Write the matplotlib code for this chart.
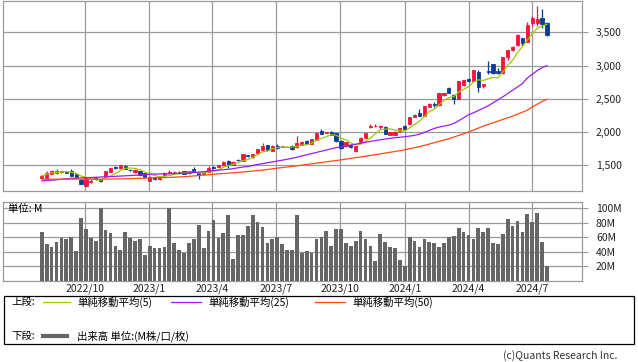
import numpy as np
import pandas as pd
import matplotlib
matplotlib.use('Agg')
import matplotlib.pyplot as plt
import matplotlib.dates as mdates
from matplotlib.lines import Line2D

plt.rcParams['font.family'] = ['Noto Sans CJK JP', 'DejaVu Sans']

# weekly bars, Monday dates
dates = pd.date_range('2022-08-01', periods=104, freq='W-MON')

opens = [1313, 1313, 1374, 1380, 1398, 1400, 1419, 1370, 1285, 1193,
         1255, 1310, 1290, 1330, 1400, 1470, 1455, 1495, 1430, 1395,
         1410, 1380, 1265, 1320, 1290, 1350, 1385, 1400, 1405, 1410,
         1380, 1450, 1390, 1370, 1400, 1480, 1480, 1505, 1570, 1505,
         1585, 1570, 1650, 1620, 1680, 1731, 1800, 1721, 1796, 1775,
         1775, 1796, 1771, 1806, 1871, 1821, 1881, 2021, 1985, 2006,
         1981, 1871, 1790, 1810, 1716, 1846, 1916, 2080, 2085, 2075,
         2081, 1956, 1961, 2011, 2097, 2122, 2232, 2292, 2242, 2382,
         2420, 2402, 2558, 2658, 2563, 2503, 2708, 2803, 2773, 2909,
         2693, 2915, 3024, 2924, 2884, 3134, 3234, 3310, 3410, 3360,
         3636, 3646, 3711, 3646]
highs = [1350, 1410, 1430, 1440, 1420, 1410, 1440, 1375, 1290, 1325,
         1295, 1320, 1300, 1415, 1465, 1485, 1510, 1500, 1440, 1440,
         1420, 1385, 1335, 1330, 1335, 1395, 1430, 1410, 1410, 1420,
         1415, 1470, 1395, 1395, 1490, 1490, 1510, 1565, 1575, 1560,
         1600, 1675, 1660, 1675, 1750, 1830, 1805, 1800, 1815, 1790,
         1790, 1805, 1946, 1860, 1880, 1895, 1985, 2046, 2000, 2010,
         1985, 1880, 1850, 1820, 1795, 1920, 1985, 2120, 2120, 2110,
         2085, 2005, 2010, 2060, 2100, 2225, 2270, 2352, 2395, 2440,
         2457, 2585, 2585, 2680, 2570, 2775, 2790, 2810, 2940, 2930,
         2730, 3069, 3030, 2960, 3130, 3240, 3300, 3470, 3420, 3660,
         3740, 3896, 3846, 3660]
lows = [1305, 1305, 1365, 1370, 1385, 1380, 1340, 1310, 1220, 1185,
        1240, 1285, 1245, 1330, 1395, 1440, 1450, 1440, 1410, 1385,
        1350, 1320, 1260, 1280, 1275, 1345, 1370, 1395, 1375, 1370,
        1375, 1395, 1300, 1365, 1395, 1450, 1475, 1495, 1455, 1500,
        1560, 1565, 1625, 1615, 1675, 1725, 1720, 1715, 1750, 1770,
        1770, 1735, 1765, 1800, 1815, 1815, 1875, 1970, 1980, 1950,
        1855, 1740, 1770, 1755, 1705, 1840, 1910, 2060, 2070, 2040,
        1965, 1950, 1955, 2005, 2035, 2115, 2225, 2235, 2235, 2375,
        2380, 2395, 2540, 2585, 2417, 2495, 2700, 2760, 2765, 2600,
        2660, 2874, 2875, 2875, 2880, 3080, 3220, 3300, 3290, 3355,
        3590, 3590, 3560, 3450]
closes = [1343, 1389, 1419, 1419, 1410, 1390, 1345, 1320, 1225, 1320,
          1270, 1295, 1265, 1410, 1460, 1455, 1505, 1450, 1425, 1430,
          1355, 1330, 1330, 1290, 1330, 1390, 1395, 1405, 1385, 1375,
          1410, 1400, 1360, 1390, 1455, 1455, 1505, 1555, 1500, 1555,
          1575, 1670, 1635, 1670, 1746, 1796, 1731, 1796, 1765, 1785,
          1782, 1750, 1841, 1856, 1821, 1891, 1981, 1975, 1995, 1956,
          1861, 1761, 1845, 1770, 1790, 1916, 1981, 2092, 2095, 2085,
          1971, 2001, 2006, 2056, 2041, 2222, 2257, 2242, 2392, 2422,
          2410, 2583, 2583, 2593, 2493, 2768, 2783, 2773, 2934, 2673,
          2723, 2905, 2884, 2884, 3124, 3234, 3285, 3460, 3335, 3610,
          3711, 3696, 3626, 3460]

ma25 = [1264, 1270, 1276, 1282, 1290, 1298, 1304, 1306, 1310, 1314,
        1316, 1320, 1324, 1328, 1330, 1334, 1338, 1342, 1346, 1350,
        1355, 1360, 1365, 1368, 1370, 1372, 1374, 1376, 1380, 1383,
        1386, 1392, 1398, 1404, 1412, 1420, 1427, 1434, 1440, 1450,
        1462, 1474, 1482, 1497, 1512, 1525, 1538, 1551, 1564, 1577,
        1590, 1605, 1622, 1640, 1658, 1676, 1694, 1712, 1730, 1748,
        1765, 1780, 1795, 1805, 1818, 1832, 1846, 1860, 1872, 1884,
        1895, 1905, 1915, 1922, 1930, 1940, 1950, 1970, 1995, 2025,
        2055, 2075, 2090, 2105, 2130, 2170, 2215, 2260, 2290, 2325,
        2360, 2395, 2440, 2485, 2530, 2580, 2630, 2680, 2730, 2815,
        2870, 2925, 2970, 3000]
ma50 = [1290, 1290, 1291, 1291, 1292, 1292, 1292, 1292, 1292, 1292,
        1292, 1292, 1292, 1293, 1294, 1295, 1296, 1297, 1300, 1302,
        1305, 1307, 1309, 1311, 1313, 1315, 1318, 1321, 1325, 1329,
        1334, 1340, 1346, 1352, 1358, 1365, 1371, 1376, 1382, 1387,
        1393, 1400, 1406, 1413, 1420, 1428, 1437, 1447, 1457, 1466,
        1475, 1484, 1493, 1502, 1512, 1522, 1532, 1542, 1552, 1562,
        1572, 1582, 1593, 1604, 1615, 1626, 1637, 1648, 1660, 1672,
        1684, 1696, 1708, 1720, 1735, 1750, 1765, 1780, 1800, 1820,
        1840, 1860, 1880, 1900, 1925, 1950, 1975, 2000, 2030, 2060,
        2090, 2115, 2140, 2165, 2190, 2215, 2240, 2270, 2300, 2330,
        2380, 2420, 2460, 2495]

# volume in millions
volume = [67.7, 50.5, 46, 54, 59.5, 57, 61, 40.5, 87, 72,
          58.6, 55.5, 100.5, 70.5, 66, 48.6, 42, 67.7, 59, 54.5,
          57, 35.5, 48.6, 44.5, 44.5, 47, 100.5, 52.7, 43, 38.6,
          51.4, 57, 77, 44.5, 69, 84, 59.5, 66, 91, 29.5,
          62.7, 63.6, 76, 91, 81, 74.5, 52.7, 58, 61, 50,
          42, 43, 91, 38, 40.5, 38, 57, 61, 69, 48.6,
          72, 72, 52.7, 48.6, 55.5, 69, 58, 48.6, 26.8, 65,
          54, 47, 45.5, 28, 19.5, 61, 55.5, 46, 57, 54,
          51.4, 47, 51.4, 61, 62.3, 73, 67.7, 63.6, 57, 73,
          67.7, 73, 52.7, 50, 65, 85.5, 76, 82.7, 67.7, 92,
          81, 93.6, 54, 20]

price_ticks = [1500, 2000, 2500, 3000, 3500]
price_labels = ['1,500', '2,000', '2,500', '3,000', '3,500']
vol_ticks = [20, 40, 60, 80, 100]
vol_labels = ['20M', '40M', '60M', '80M', '100M']
x_ticks = ['2022-10-01', '2023-01-01', '2023-04-01', '2023-07-01',
           '2023-10-01', '2024-01-01', '2024-04-01', '2024-07-01']
x_labels = ['2022/10', '2023/1', '2023/4', '2023/7',
            '2023/10', '2024/1', '2024/4', '2024/7']

UP = '#f5143c'
DOWN = '#0c3c94'
GRID = '#9a9a9a'
FS = 7.5

df = pd.DataFrame({'o': opens, 'h': highs, 'l': lows, 'c': closes,
                   'v': volume, 'ma25': ma25, 'ma50': ma50}, index=dates)
df['ma5'] = df['c'].rolling(5, min_periods=1).mean()

W, H = 638, 362
fig = plt.figure(figsize=(W / 100, H / 100), dpi=100)

def px_axes(x0, y0, x1, y1):
    return fig.add_axes([x0 / W, 1 - y1 / H, (x1 - x0) / W, (y1 - y0) / H])

ax = px_axes(3.3, 0.5, 582, 190.7)
axv = px_axes(3.3, 201.5, 582, 280.5)

xnum = mdates.date2num(df.index)
xlo = mdates.date2num(pd.Timestamp('2022-06-07'))
xhi = mdates.date2num(pd.Timestamp('2024-09-10'))
tick_pos = mdates.date2num(pd.to_datetime(x_ticks))

for a in (ax, axv):
    a.set_xlim(xlo, xhi)
    a.set_xticks(tick_pos)
    for s in a.spines.values():
        s.set_color(GRID)
        s.set_linewidth(0.9)
    a.grid(True, color=GRID, linewidth=0.9)
    a.set_axisbelow(True)
    a.yaxis.tick_right()
    a.tick_params(axis='y', length=4, color=GRID, labelsize=FS, pad=6,
                  labelcolor='#222222')
    a.tick_params(axis='x', length=0, labelsize=FS, labelcolor='#222222')

# candles
up = df['c'] >= df['o']
col = np.where(up, UP, DOWN)
ax.vlines(xnum, df['l'], df['h'], colors=col, linewidth=0.9, zorder=2)
body_lo = np.minimum(df['o'], df['c'])
body_h = np.abs(df['c'] - df['o'])
ax.bar(xnum, body_h, bottom=body_lo, width=4.6, color=col,
       edgecolor=col, linewidth=0.6, zorder=3)

ax.plot(xnum, df['ma5'], color='#99cc00', linewidth=0.9, zorder=4)
ax.plot(xnum, df['ma25'], color='#9b1cf5', linewidth=0.9, zorder=4)
ax.plot(xnum, df['ma50'], color='#ff4a14', linewidth=0.9, zorder=4)

ax.set_ylim(1118, 3980)
ax.set_yticks(price_ticks)
ax.set_yticklabels(price_labels)
ax.set_xticklabels([])

axv.bar(xnum, df['v'], width=5.3, color='#666666', zorder=3)
axv.set_ylim(0, 109.7)
axv.set_yticks(vol_ticks)
axv.set_yticklabels(vol_labels)
axv.set_xticklabels(x_labels)
axv.tick_params(axis='x', pad=2)
axv.text(0.008, 0.97, '単位: M', transform=axv.transAxes, fontsize=FS,
         ha='left', va='top', zorder=5)

# legend box
fig.add_artist(plt.Rectangle((4 / W, 1 - 344 / H), 630 / W, 48 / H,
                             transform=fig.transFigure, fill=False,
                             edgecolor='black', linewidth=0.9))

def fx(x):
    return x / W

def fy(y):
    return 1 - y / H

fig.text(fx(11), fy(302), '上段:', fontsize=FS, va='center')
fig.text(fx(11), fy(336), '下段:', fontsize=FS, va='center')
legend_items = [(43, 70, '#99cc00', '単純移動平均(5)'),
                (171, 201, '#9b1cf5', '単純移動平均(25)'),
                (315, 345, '#ff4a14', '単純移動平均(50)')]
for x0, x1, c, t in legend_items:
    fig.add_artist(Line2D([fx(x0), fx(x1)], [fy(302), fy(302)], color=c,
                          linewidth=0.9, transform=fig.transFigure))
    fig.text(fx(x1 + 7), fy(302), t, fontsize=FS, va='center')
fig.add_artist(Line2D([fx(43), fx(67)], [fy(336), fy(336)], color='#666666',
                      linewidth=3, transform=fig.transFigure))
fig.text(fx(77), fy(336), '出来高 単位:(M株/口/枚)', fontsize=FS, va='center')
fig.text(fx(617), fy(356), '(c)Quants Research Inc.', fontsize=FS,
         ha='right', va='center', color='#333333')

fig.savefig('out.png', dpi=100)
